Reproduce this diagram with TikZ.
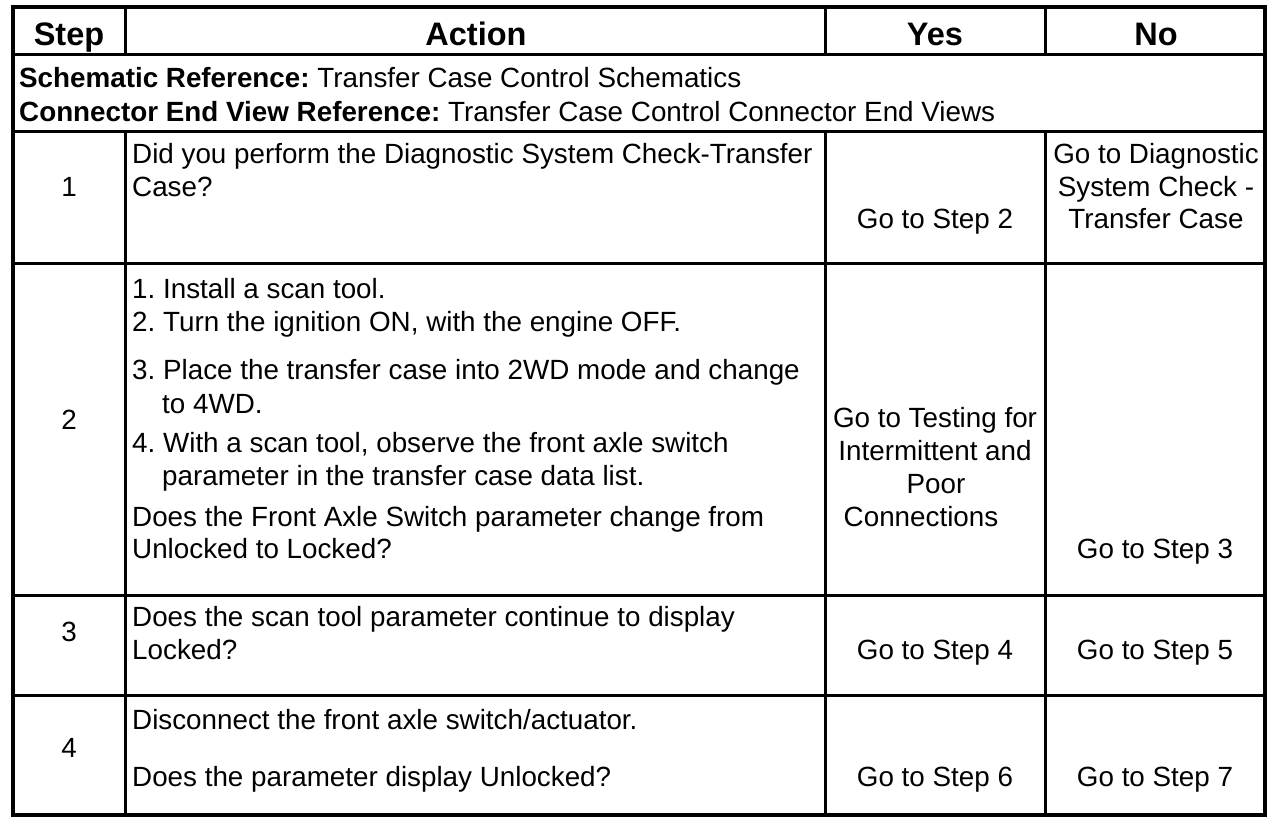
\documentclass[tikz,border=0pt]{standalone}
\usepackage{fontspec}
\setmainfont{Liberation Sans}
\frenchspacing
\begin{document}
\begin{tikzpicture}[x=1pt,y=-1pt,
  txt/.style={inner sep=0pt, anchor=base west, font=\fontsize{27.8}{33}\selectfont},
  ctr/.style={txt, anchor=base},
  hdr/.style={inner sep=0pt, anchor=base, font=\fontsize{32.5}{36}\selectfont\bfseries},
  gridline/.style={line width=3pt, line cap=rect},
  frameline/.style={line width=4.5pt}]
\useasboundingbox (0,0) rectangle (1280,826);
% grid
\coordinate (tl) at (13,7);
\coordinate (br) at (1265,815);
\foreach \yy in {55,132,264,595,695}
  \draw[gridline] (13,\yy) -- (1265,\yy);
\foreach \xx in {125,825,1045}{
  \draw[gridline] (\xx,7) -- (\xx,55);
  \draw[gridline] (\xx,132) -- (\xx,815);
}
\draw[frameline] (tl) rectangle (br);
% header
\node[hdr] (hstep) at (69,46) {Step};
\node[hdr] (haction) at (476,46) {Action};
\node[hdr] (hyes) at (935,46) {Yes};
\node[hdr] (hno) at (1156,46) {No};
% reference row
\node[txt] (ref1) at (19,88) {\textbf{Schematic Reference:} Transfer Case Control Schematics};
\node[txt] (ref2) at (19,122) {\textbf{Connector End View Reference:} Transfer Case Control Connector End Views};
% row 1
\node[ctr] (s1) at (69,197) {1};
\node[txt] (a1a) at (132,164) {Did you perform the Diagnostic System Check-Transfer};
\node[txt] (a1b) at (132,197) {Case?};
\node[ctr] (y1) at (935,229) {Go to Step 2};
\node[ctr] (n1a) at (1156,164) {Go to Diagnostic};
\node[ctr] (n1b) at (1156,197) {System Check -};
\node[ctr] (n1c) at (1156,229) {Transfer Case};
% row 2
\node[ctr] (s2) at (69,429) {2};
\node[txt] (a2a) at (132,299) {1. Install a scan tool.};
\node[txt] (a2b) at (132,332) {2. Turn the ignition ON, with the engine OFF.};
\node[txt] (a2c) at (132,379) {3. Place the transfer case into 2WD mode and change};
\node[txt] (a2d) at (162,413) {to 4WD.};
\node[txt] (a2e) at (132,452) {4. With a scan tool, observe the front axle switch};
\node[txt] (a2f) at (162,485) {parameter in the transfer case data list.};
\node[txt] (a2g) at (132,526) {Does the Front Axle Switch parameter change from};
\node[txt] (a2h) at (132,558) {Unlocked to Locked?};
\node[ctr] (y2a) at (935,427) {Go to Testing for};
\node[ctr] (y2b) at (935,460) {Intermittent and};
\node[ctr] (y2c) at (936,493) {Poor};
\node[ctr] (y2d) at (921,526) {Connections};
\node[ctr] (n2) at (1155,558) {Go to Step 3};
% row 3
\node[ctr] (s3) at (69,641) {3};
\node[txt] (a3a) at (132,626) {Does the scan tool parameter continue to display};
\node[txt] (a3b) at (132,659) {Locked?};
\node[ctr] (y3) at (935,659) {Go to Step 4};
\node[ctr] (n3) at (1155,659) {Go to Step 5};
% row 4
\node[ctr] (s4) at (69,757) {4};
\node[txt] (a4a) at (132,729) {Disconnect the front axle switch/actuator.};
\node[txt] (a4b) at (132,786) {Does the parameter display Unlocked?};
\node[ctr] (y4) at (935,786) {Go to Step 6};
\node[ctr] (n4) at (1155,786) {Go to Step 7};
\end{tikzpicture}
\end{document}
